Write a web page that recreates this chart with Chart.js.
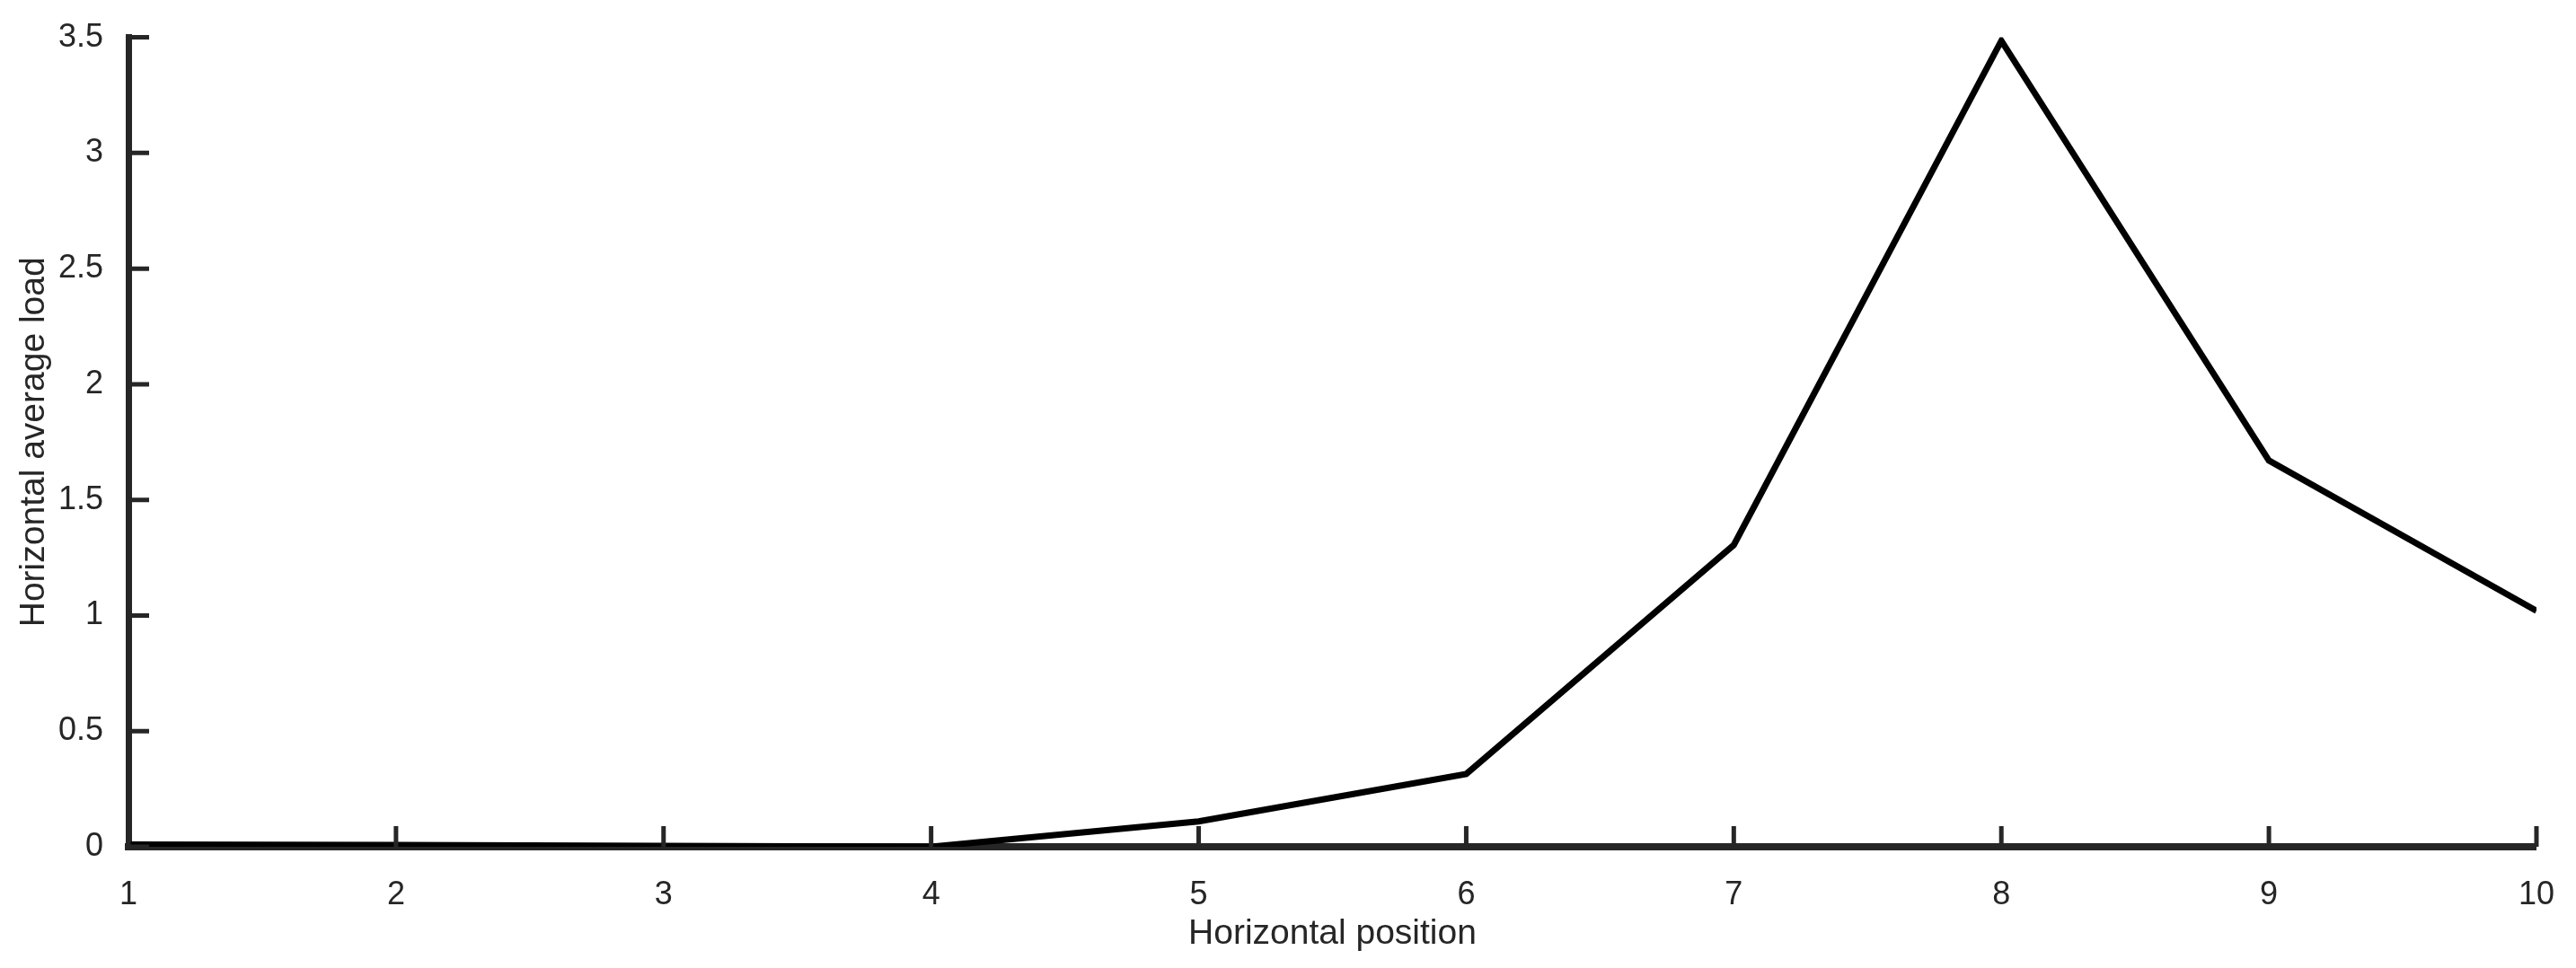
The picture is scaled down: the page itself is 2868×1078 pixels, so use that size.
<!DOCTYPE html>
<html>
<head>
<meta charset="utf-8">
<script src="https://cdn.jsdelivr.net/npm/chart.js@4"></script>
<style>
  html, body { margin:0; padding:0; background:#fff; }
  #chart { display:block; }
</style>
</head>
<body>
<canvas id="chart" width="2868" height="1078"></canvas>
<script>
const positions = [1, 2, 3, 4, 5, 6, 7, 8, 9, 10];
const avgLoad = [0.01, 0.008, 0.004, 0, 0.11, 0.315, 1.305, 3.485, 1.67, 1.02];
const xTicks = [1, 2, 3, 4, 5, 6, 7, 8, 9, 10];
const yTicks = [0, 0.5, 1, 1.5, 2, 2.5, 3, 3.5];

const axisColor = '#262626';
const font = 'Liberation Sans, Arial, Helvetica, sans-serif';

// matlab style ticks pointing into the plot
const innerTicks = {
  id: 'innerTicks',
  afterDraw(chart) {
    const {ctx, chartArea, scales} = chart;
    ctx.save();
    ctx.strokeStyle = axisColor;
    ctx.lineWidth = 5;
    ctx.beginPath();
    scales.x.ticks.forEach(t => {
      const x = scales.x.getPixelForValue(t.value);
      ctx.moveTo(x, chartArea.bottom);
      ctx.lineTo(x, chartArea.bottom - 23);
    });
    scales.y.ticks.forEach(t => {
      const y = scales.y.getPixelForValue(t.value);
      ctx.moveTo(chartArea.left, y);
      ctx.lineTo(chartArea.left + 23, y);
    });
    ctx.stroke();
    ctx.restore();
  }
};

new Chart(document.getElementById('chart'), {
  type: 'line',
  data: {
    datasets: [{
      data: positions.map((p, i) => ({x: p, y: avgLoad[i]})),
      borderColor: '#000',
      borderWidth: 7,
      pointRadius: 0,
      tension: 0,
      fill: false
    }]
  },
  options: {
    responsive: false,
    devicePixelRatio: 1,
    animation: false,
    layout: { padding: { top: 33, right: 42, left: 0, bottom: 0 } },
    plugins: { legend: { display: false }, tooltip: { enabled: false } },
    scales: {
      x: {
        type: 'linear', min: 1, max: 10,
        afterBuildTicks: s => { s.ticks = xTicks.map(v => ({value: v})); },
        afterFit: s => { s.height = 135; },
        grid: { display: false },
        border: { display: true, color: axisColor, width: 8 },
        ticks: { color: axisColor, padding: 24, maxRotation: 0, font: { family: font, size: 36 } },
        title: { display: true, text: 'Horizontal position', color: axisColor,
                 padding: { bottom: 18, top: 0 }, font: { family: font, size: 39, lineHeight: 1 } }
      },
      y: {
        type: 'linear', min: 0, max: 3.5,
        afterBuildTicks: s => { s.ticks = yTicks.map(v => ({value: v})); },
        afterFit: s => { s.width = 143; },
        grid: { display: false },
        border: { display: true, color: axisColor, width: 7 },
        ticks: { color: axisColor, padding: 20, font: { family: font, size: 36 },
                 callback: v => String(v) },
        title: { display: true, text: 'Horizontal average load', color: axisColor,
                 padding: { top: 19, bottom: 0 }, font: { family: font, size: 39, lineHeight: 1 } }
      }
    }
  },
  plugins: [innerTicks]
});
</script>
</body>
</html>
